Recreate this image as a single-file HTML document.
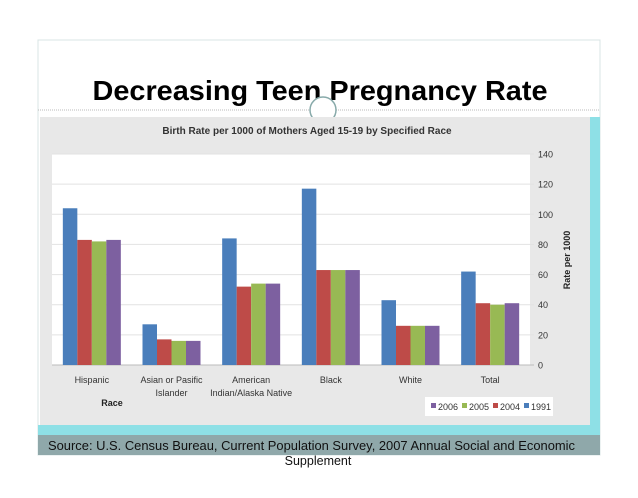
<!DOCTYPE html>
<html><head><meta charset="utf-8"><style>
body{margin:0;width:638px;height:493px;background:#fff;overflow:hidden;font-family:"Liberation Sans",Arial,sans-serif;}
</style></head><body>
<svg width="638" height="493" viewBox="0 0 638 493" xmlns="http://www.w3.org/2000/svg">
<rect x="38" y="40" width="562" height="415" fill="#fff" stroke="#d8e4e4"/>
<text x="320" y="100" text-anchor="middle" font-size="28" font-weight="bold" fill="#000" textLength="455" lengthAdjust="spacingAndGlyphs">Decreasing Teen Pregnancy Rate</text>
<line x1="38" y1="110" x2="600" y2="110" stroke="#bbb" stroke-dasharray="1,1"/>
<circle cx="323" cy="110" r="13" fill="#fff" stroke="#8aa" stroke-width="1.5"/>
<rect x="590" y="117" width="10" height="318" fill="#8ee0e6"/>
<rect x="38" y="425" width="562" height="10" fill="#8ee0e6"/>
<rect x="40" y="117" width="550" height="308" fill="#e8e8e8"/>
<text x="307" y="134" text-anchor="middle" font-size="10" font-weight="bold" fill="#333">Birth Rate per 1000 of Mothers Aged 15-19 by Specified Race</text>
<rect x="52" y="154" width="478" height="211" fill="#fff"/>
<g id="grid"></g><g id="bars"></g><g id="ticks"></g><g id="cats"></g>
<text transform="translate(570,260) rotate(-90)" text-anchor="middle" font-size="9" font-weight="bold" fill="#222">Rate per 1000</text>
<text x="112" y="406" text-anchor="middle" font-size="9" font-weight="bold" fill="#222">Race</text>
<rect x="425" y="397" width="128" height="19" fill="#fff"/>
<g id="legend"></g>
<rect x="38" y="435" width="562" height="20" fill="#8fa8aa"/>
<text x="48" y="450" font-size="12.5" fill="#111" textLength="527" lengthAdjust="spacingAndGlyphs">Source: U.S. Census Bureau, Current Population Survey, 2007 Annual Social and Economic</text>
<text x="318" y="465" text-anchor="middle" font-size="12.5" fill="#111">Supplement</text>
</svg>
<script>
const categories=[["Hispanic"],["Asian or Pasific","Islander"],["American","Indian/Alaska Native"],["Black"],["White"],["Total"]];
const v1991=[104,27,84,117,43,62];
const v2004=[83,17,52,63,26,41];
const v2005=[82,16,54,63,26,40];
const v2006=[83,16,54,63,26,41];
const yTicks=[0,20,40,60,80,100,120,140];
const seriesNames=["1991","2004","2005","2006"];
const colors=["#4a7ebb","#be4b48","#98b954","#7d60a0"];
const series=[v1991,v2004,v2005,v2006];
const NS="http://www.w3.org/2000/svg";
const L=52,R=530,T=154,B=365,MAX=140;
const y=v=>B-(v/MAX)*(B-T);
const gw=(R-L)/categories.length;
const bw=14.5;
const x=(i,s)=>L+gw*i+gw/2-2*bw+s*bw;
function mk(tag,attrs,parent,txt){const e=document.createElementNS(NS,tag);for(const k in attrs)e.setAttribute(k,attrs[k]);if(txt!==undefined)e.textContent=txt;document.getElementById(parent).appendChild(e);return e;}
yTicks.forEach(t=>{
 const g=mk("line",{x1:L,x2:R+4,y1:y(t),y2:y(t),stroke:t===0?"#bbb":"#e2e2e2"},"grid");
 
 
 const lb=mk("text",{x:538,y:y(t)+3.5,"font-size":9,fill:"#333"},"ticks",String(t));
 
 
});
categories.forEach((c,i)=>{
 series.forEach((s,j)=>{
  const r=mk("rect",{x:x(i,j),y:y(s[i]),width:bw,height:B-y(s[i]),fill:colors[j]},"bars");
  
  
 });
 c.forEach((line,k)=>{
  const t=mk("text",{x:L+gw*i+gw/2,y:383+k*13,"text-anchor":"middle","font-size":9,fill:"#333"},"cats",line);
  
  
 });
});
const order=[3,2,1,0];
order.forEach((si,k)=>{
 const lx=431+k*31;
 const sq=mk("rect",{x:lx,y:403,width:5,height:5,fill:colors[si]},"legend");
 
 
 const t=mk("text",{x:lx+7,y:410,"font-size":9,fill:"#333"},"legend",seriesNames[si]);
 
 
});
</script>
</body></html>
